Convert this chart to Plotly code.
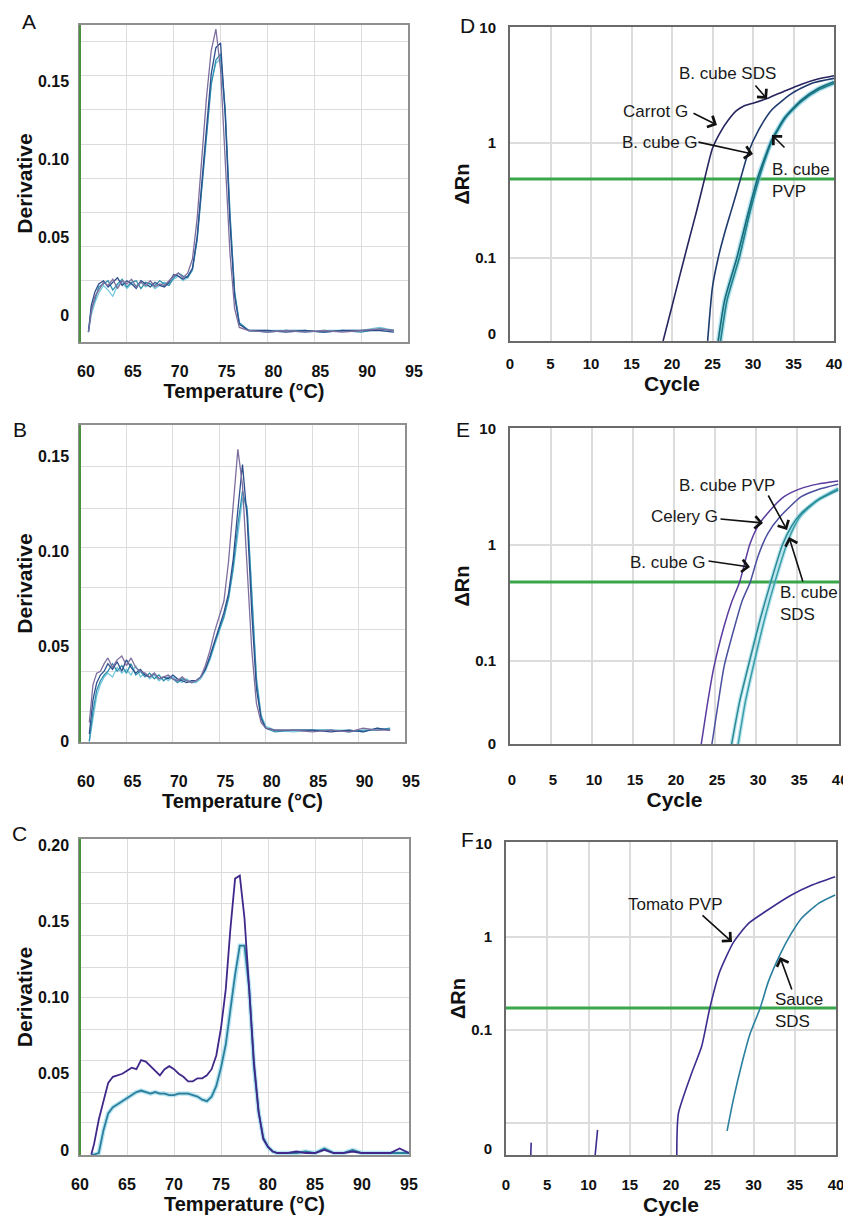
import plotly.graph_objects as go

# page is 851x1217; the html body adds an 8 px margin, so the figure is 843x1209 drawn at (8, 8)
PAGE_OFF = 8
W, H = 851 - PAGE_OFF, 1217 - PAGE_OFF

# ---------------- data: melt curves (Temperature °C, Derivative) ----------------
A_temp = [60.9, 61.2, 61.6, 62.0, 62.5, 63.0, 63.5, 64.0, 64.5, 65.0, 65.5, 66.0, 66.5, 67.0, 67.5,
          68.0, 68.5, 69.0, 69.5, 70.0, 70.5, 71.0, 71.5, 72.0, 72.5, 73.0, 73.5, 74.0, 74.5, 75.0,
          75.5, 76.0, 76.5, 77.0, 78.0, 80.0, 82.0, 84.0, 86.0, 88.0, 90.0, 92.0, 93.5]
A_purple = [-0.011, 0.002, 0.012, 0.016, 0.021, 0.019, 0.023, 0.017, 0.022, 0.020, 0.023, 0.018, 0.021, 0.019, 0.022,
            0.018, 0.020, 0.019, 0.022, 0.025, 0.027, 0.024, 0.027, 0.036, 0.062, 0.100, 0.140, 0.170, 0.184, 0.158,
            0.100, 0.040, 0.004, -0.008, -0.010, -0.011, -0.010, -0.011, -0.010, -0.011, -0.010, -0.009, -0.010]
A_navy = [-0.011, 0.006, 0.015, 0.020, 0.022, 0.018, 0.021, 0.024, 0.019, 0.022, 0.020, 0.017, 0.022, 0.020, 0.018,
          0.021, 0.019, 0.018, 0.021, 0.026, 0.025, 0.023, 0.025, 0.030, 0.050, 0.085, 0.122, 0.155, 0.172, 0.175,
          0.128, 0.060, 0.012, -0.006, -0.010, -0.010, -0.011, -0.010, -0.011, -0.010, -0.010, -0.010, -0.011]
A_teal = [-0.011, 0.004, 0.010, 0.018, 0.020, 0.022, 0.016, 0.020, 0.023, 0.018, 0.021, 0.022, 0.017, 0.021, 0.020,
          0.019, 0.022, 0.020, 0.019, 0.024, 0.027, 0.025, 0.024, 0.029, 0.048, 0.082, 0.118, 0.148, 0.164, 0.168,
          0.132, 0.066, 0.015, -0.005, -0.010, -0.011, -0.010, -0.010, -0.011, -0.010, -0.011, -0.009, -0.010]
A_cyan = [-0.011, 0.000, 0.008, 0.014, 0.019, 0.016, 0.012, 0.019, 0.021, 0.017, 0.020, 0.019, 0.021, 0.018, 0.020,
          0.017, 0.019, 0.021, 0.020, 0.023, 0.025, 0.022, 0.024, 0.030, 0.050, 0.084, 0.119, 0.150, 0.162, 0.165,
          0.130, 0.064, 0.014, -0.005, -0.010, -0.010, -0.010, -0.011, -0.010, -0.010, -0.010, -0.008, -0.010]

B_temp = [61.0, 61.4, 61.8, 62.2, 62.6, 63.0, 63.5, 64.0, 64.5, 65.0, 65.5, 66.0, 66.5, 67.0, 67.5, 68.0,
          68.5, 69.0, 69.5, 70.0, 70.5, 71.0, 71.5, 72.0, 72.5, 73.0, 73.5, 74.0, 74.5, 75.0, 75.5, 76.0,
          76.5, 77.0, 77.5, 78.0, 78.5, 79.0, 79.5, 80.0, 81.0, 83.0, 85.0, 87.0, 89.0, 90.5, 92.0, 93.4]
B_purple = [0.010, 0.030, 0.036, 0.037, 0.041, 0.044, 0.039, 0.043, 0.045, 0.040, 0.044, 0.039, 0.037, 0.036, 0.034, 0.036,
            0.033, 0.034, 0.035, 0.033, 0.032, 0.034, 0.032, 0.031, 0.032, 0.034, 0.040, 0.048, 0.058, 0.066, 0.074, 0.095,
            0.125, 0.154, 0.135, 0.090, 0.048, 0.020, 0.010, 0.007, 0.006, 0.006, 0.005, 0.006, 0.005, 0.007, 0.006, 0.006]
B_navy = [0.004, 0.022, 0.031, 0.035, 0.037, 0.041, 0.038, 0.042, 0.037, 0.043, 0.039, 0.036, 0.038, 0.035, 0.034, 0.036,
          0.033, 0.034, 0.033, 0.035, 0.033, 0.032, 0.031, 0.032, 0.032, 0.034, 0.038, 0.045, 0.053, 0.060, 0.068, 0.078,
          0.096, 0.122, 0.146, 0.118, 0.068, 0.028, 0.012, 0.007, 0.006, 0.006, 0.006, 0.005, 0.006, 0.005, 0.007, 0.006]
B_teal = [0.000, 0.016, 0.027, 0.032, 0.035, 0.037, 0.041, 0.037, 0.040, 0.036, 0.041, 0.035, 0.037, 0.034, 0.036, 0.033,
          0.035, 0.032, 0.034, 0.033, 0.031, 0.033, 0.032, 0.031, 0.032, 0.034, 0.038, 0.044, 0.052, 0.059, 0.066, 0.076,
          0.092, 0.114, 0.132, 0.122, 0.075, 0.032, 0.013, 0.007, 0.005, 0.006, 0.006, 0.006, 0.005, 0.006, 0.006, 0.007]
B_cyan = [0.000, 0.012, 0.024, 0.030, 0.034, 0.036, 0.034, 0.039, 0.036, 0.038, 0.035, 0.040, 0.034, 0.036, 0.033, 0.035,
          0.032, 0.034, 0.032, 0.034, 0.032, 0.031, 0.033, 0.031, 0.031, 0.033, 0.037, 0.043, 0.051, 0.058, 0.065, 0.075,
          0.090, 0.110, 0.128, 0.124, 0.078, 0.034, 0.014, 0.008, 0.006, 0.005, 0.006, 0.006, 0.006, 0.005, 0.007, 0.006]

C_temp = [61.2, 61.5, 62.0, 62.5, 63.0, 63.5, 64.0, 64.5, 65.0, 65.5, 66.0, 66.5, 67.0, 67.5, 68.0, 68.5,
          69.0, 69.5, 70.0, 70.5, 71.0, 71.5, 72.0, 72.5, 73.0, 73.5, 74.0, 74.5, 75.0, 75.5, 76.0, 76.5,
          77.0, 77.5, 78.0, 78.5, 79.0, 79.5, 80.0, 80.5, 81.0, 82.0, 83.0, 84.0, 85.0, 86.0, 87.0, 88.0,
          89.0, 90.0, 91.0, 92.0, 93.0, 94.0, 95.0]
C_purple = [-0.003, 0.004, 0.020, 0.033, 0.044, 0.048, 0.049, 0.050, 0.052, 0.054, 0.053, 0.059, 0.058, 0.055, 0.052, 0.049,
            0.053, 0.055, 0.053, 0.050, 0.048, 0.045, 0.045, 0.047, 0.047, 0.049, 0.053, 0.062, 0.080, 0.105, 0.145, 0.178,
            0.180, 0.152, 0.105, 0.058, 0.025, 0.007, 0.002, -0.001, -0.002, -0.002, -0.001, -0.002, -0.002, 0.000, -0.002, -0.002,
            -0.001, -0.002, -0.002, -0.002, -0.002, 0.001, -0.002]
C_teal = [-0.003, -0.003, -0.002, 0.013, 0.024, 0.028, 0.030, 0.032, 0.034, 0.036, 0.038, 0.039, 0.038, 0.037, 0.038, 0.037,
          0.037, 0.036, 0.036, 0.037, 0.037, 0.037, 0.036, 0.035, 0.033, 0.032, 0.035, 0.042, 0.054, 0.069, 0.092, 0.115,
          0.134, 0.134, 0.106, 0.055, 0.025, 0.008, 0.002, -0.001, -0.002, -0.002, -0.002, -0.001, -0.002, 0.001, -0.002, -0.002,
          0.000, -0.002, -0.002, -0.002, -0.002, -0.002, -0.002]

# ---------------- data: amplification curves (Cycle, ΔRn) ----------------
D_carrotG_cyc = [18.9, 20, 21, 22, 23, 24, 25, 26, 27, 28, 29, 30, 32, 34, 36, 38, 40]
D_carrotG_val = [0.019, 0.038, 0.072, 0.135, 0.25, 0.48, 0.90, 1.25, 1.60, 1.92, 2.12, 2.22, 2.48, 2.85, 3.25, 3.60, 3.85]
D_bcubeG_cyc = [24.4, 25.0, 25.7, 26.5, 27.4, 28.2, 29.4, 30.7, 32.3, 34.8, 37.2, 40]
D_bcubeG_val = [0.019, 0.056, 0.10, 0.165, 0.27, 0.42, 0.82, 1.30, 1.94, 2.70, 3.30, 3.65]
D_bcubePVP_cyc = [25.7, 26.5, 28.0, 29.4, 30.5, 31.5, 32.3, 34.0, 36.0, 38.1, 40]
D_bcubePVP_val = [0.019, 0.043, 0.10, 0.246, 0.48, 0.76, 1.06, 1.69, 2.37, 2.99, 3.41]
D_bcubeSDS_cyc = [26.0, 26.8, 28.3, 29.6, 30.7, 31.6, 32.4, 34.0, 36.0, 38.1, 40]
D_bcubeSDS_val = [0.019, 0.043, 0.10, 0.246, 0.48, 0.76, 1.06, 1.66, 2.30, 2.90, 3.30]
D_threshold = 0.486

E_celeryG_cyc = [23.3, 24.0, 24.8, 26.1, 27.0, 28.0, 29.2, 30.2, 31.4, 33.4, 35.5, 37.5, 40]
E_celeryG_val = [0.019, 0.04, 0.085, 0.20, 0.32, 0.483, 1.0, 1.45, 1.88, 2.61, 3.08, 3.35, 3.56]
E_bcubeG_cyc = [24.6, 25.3, 26.1, 27.4, 28.3, 29.3, 30.2, 31.4, 32.9, 35.5, 37.5, 40]
E_bcubeG_val = [0.019, 0.04, 0.09, 0.20, 0.33, 0.483, 0.79, 1.25, 1.75, 2.61, 3.00, 3.34]
E_bcubePVP_cyc = [27.0, 28.0, 29.2, 30.5, 31.8, 33.2, 34.3, 35.5, 37.5, 40]
E_bcubePVP_val = [0.019, 0.045, 0.10, 0.23, 0.483, 1.0, 1.45, 1.88, 2.44, 2.98]
E_bcubeSDS_cyc = [27.8, 28.7, 29.8, 31.1, 32.3, 33.7, 34.6, 35.5, 37.5, 40]
E_bcubeSDS_val = [0.019, 0.045, 0.10, 0.24, 0.483, 1.0, 1.42, 1.81, 2.44, 3.08]
E_threshold = 0.48

F_tomato_cyc = [20.7, 20.9, 22.5, 23.7, 24.7, 25.9, 27.6, 29.4, 31.4, 34.6, 37.1, 39.9]
F_tomato_val = [0.0045, 0.0128, 0.0344, 0.066, 0.171, 0.42, 0.88, 1.39, 1.85, 2.80, 3.58, 4.40]
F_tomato_spike1_cyc = [3.0, 3.05]
F_tomato_spike1_val = [0.0045, 0.0062]
F_tomato_spike2_cyc = [10.8, 11.1]
F_tomato_spike2_val = [0.0045, 0.0085]
F_sauce_cyc = [26.8, 27.55, 28.6, 29.6, 30.8, 31.8, 33.2, 34.6, 35.8, 37.9, 39.9]
F_sauce_val = [0.0083, 0.0178, 0.044, 0.092, 0.171, 0.33, 0.64, 1.09, 1.57, 2.28, 2.80]
F_threshold = 0.172

temp_ticks = [60, 65, 70, 75, 80, 85, 90, 95]
cycle_ticks = [0, 5, 10, 15, 20, 25, 30, 35, 40]

# ---------------- styling ----------------
FONT = "Liberation Sans, Arial, sans-serif"
C_PURPLE = "#7d6e9e"
C_NAVY = "#2d4e8c"
C_TEAL = "#2f8fae"
C_CYAN = "#76c8dc"
GREEN = "#3aa64a"
GRID = "#dcdcdc"
FRAME_M = "#8f8f8f"
FRAME_Q = "#6a6a6a"

fig = go.Figure()


def fx(p):
    return (p - PAGE_OFF) / W


def fy(p):
    return 1 - (p - PAGE_OFF) / H


def line(xs, ys, ax, color, width, shape="linear", opacity=1.0):
    fig.add_trace(go.Scatter(x=xs, y=ys, xaxis="x" + ax, yaxis="y" + ax, mode="lines",
                             line=dict(color=color, width=width, shape=shape, smoothing=0.6),
                             opacity=opacity, showlegend=False, hoverinfo="skip"))


# melt curves
line(A_temp, A_cyan, "", C_CYAN, 1.3)
line(A_temp, A_teal, "", C_TEAL, 1.3)
line(A_temp, A_navy, "", C_NAVY, 1.3)
line(A_temp, A_purple, "", C_PURPLE, 1.3)

line(B_temp, B_cyan, "2", C_CYAN, 1.3)
line(B_temp, B_teal, "2", C_TEAL, 1.3)
line(B_temp, B_navy, "2", C_NAVY, 1.3)
line(B_temp, B_purple, "2", C_PURPLE, 1.3)

line(C_temp, C_teal, "3", "rgba(120,205,230,0.5)", 4.5)
line(C_temp, C_teal, "3", "#2b7f9c", 1.8)
line(C_temp, C_purple, "3", "#40288a", 1.8)

# amplification curves
line([0, 40], [D_threshold, D_threshold], "4", GREEN, 3)
line(D_bcubeSDS_cyc, D_bcubeSDS_val, "4", "rgba(110,200,225,0.5)", 4.5, "spline")
line(D_bcubePVP_cyc, D_bcubePVP_val, "4", "rgba(110,200,225,0.5)", 4.5, "spline")
line(D_bcubeSDS_cyc, D_bcubeSDS_val, "4", "#1f8088", 1.6, "spline")
line(D_bcubePVP_cyc, D_bcubePVP_val, "4", "#176c7a", 1.6, "spline")
line(D_bcubeG_cyc, D_bcubeG_val, "4", "#1d3a6c", 1.6, "spline")
line(D_carrotG_cyc, D_carrotG_val, "4", "#26245e", 1.6, "spline")

line([0, 40.1], [E_threshold, E_threshold], "5", GREEN, 3)
line(E_bcubeSDS_cyc, E_bcubeSDS_val, "5", "rgba(110,200,225,0.45)", 4, "spline")
line(E_bcubePVP_cyc, E_bcubePVP_val, "5", "rgba(110,200,225,0.45)", 4, "spline")
line(E_bcubeSDS_cyc, E_bcubeSDS_val, "5", "#3a9ea6", 1.5, "spline")
line(E_bcubePVP_cyc, E_bcubePVP_val, "5", "#2a8a92", 1.5, "spline")
line(E_bcubeG_cyc, E_bcubeG_val, "5", "#4a4f9e", 1.5, "spline")
line(E_celeryG_cyc, E_celeryG_val, "5", "#5a3b9e", 1.5, "spline")

line([0, 40], [F_threshold, F_threshold], "6", GREEN, 3)
line(F_tomato_spike1_cyc, F_tomato_spike1_val, "6", "#3d2c8e", 1.6)
line(F_tomato_spike2_cyc, F_tomato_spike2_val, "6", "#3d2c8e", 1.6)
line(F_sauce_cyc, F_sauce_val, "6", "#2a7f9f", 1.6, "spline")
line(F_tomato_cyc, F_tomato_val, "6", "#3d2c8e", 1.6, "spline")

# ---------------- axes ----------------
TICKF_M = dict(family=FONT, size=16, color="#111111")
TICKF_Q = dict(family=FONT, size=15, color="#111111")
XT_M = dict(family=FONT, size=20, color="#111111")
YT_M = dict(family=FONT, size=21, color="#111111")
XT_Q = dict(family=FONT, size=21, color="#111111")
YT_Q = dict(family=FONT, size=20, color="#111111")


def bold(s):
    return "<b>" + s + "</b>"


layout_axes = {}


def melt(n, xpx, ypx, yrange, ytick, ytext, ygrid, lab_standoff, shift, title_standoff):
    sfx = "" if n == 1 else str(n)
    layout_axes["xaxis" + sfx] = dict(
        domain=[fx(xpx[0]), fx(xpx[1])], anchor="y" + sfx, range=[60, 95], automargin=False,
        tickvals=temp_ticks, ticktext=[bold(str(t)) for t in temp_ticks],
        showgrid=True, gridcolor=GRID, gridwidth=1, zeroline=False,
        showline=True, linecolor=FRAME_M, linewidth=1.5, mirror=True, ticks="",
        tickfont=TICKF_M, ticklabelstandoff=lab_standoff, ticklabelshift=shift,
        title=dict(text=bold("Temperature (°C)"), font=XT_M, standoff=title_standoff))
    layout_axes["yaxis" + sfx] = dict(
        domain=[fy(ypx[1]), fy(ypx[0])], anchor="x" + sfx, range=yrange, automargin=False,
        tickvals=ytick, ticktext=[bold(t) for t in ytext], showgrid=False, zeroline=False,
        minor=dict(tickvals=ygrid, showgrid=True, gridcolor=GRID, gridwidth=1, ticks=""),
        showline=True, linecolor=FRAME_M, linewidth=1.5, mirror=True, ticks="",
        tickfont=TICKF_M, ticklabelstandoff=6,
        title=dict(text=bold("Derivative"), font=YT_M, standoff=0))


def qpcr(n, xpx, ypx, yrange, ytick, ygrid, lab_standoff, shift, title_standoff, xmax):
    sfx = str(n)
    layout_axes["xaxis" + sfx] = dict(
        domain=[fx(xpx[0]), fx(xpx[1])], anchor="y" + sfx, range=[0, xmax], automargin=False,
        tickvals=cycle_ticks, ticktext=[bold(str(t)) for t in cycle_ticks],
        showgrid=True, gridcolor=GRID, gridwidth=1.5, zeroline=False,
        showline=True, linecolor=FRAME_Q, linewidth=2, mirror=True, ticks="",
        tickfont=TICKF_Q, ticklabelstandoff=lab_standoff, ticklabelshift=shift,
        title=dict(text=bold("Cycle"), font=XT_Q, standoff=title_standoff))
    layout_axes["yaxis" + sfx] = dict(
        domain=[fy(ypx[1]), fy(ypx[0])], anchor="x" + sfx, type="log", range=yrange, automargin=False,
        tickvals=ytick, ticktext=[bold(t) for t in ["0", "0.1", "1", "10"]], showgrid=False,
        zeroline=False,
        minor=dict(tickvals=ygrid, showgrid=True, gridcolor=GRID, gridwidth=1.5, ticks=""),
        showline=True, linecolor=FRAME_Q, linewidth=2, mirror=True, ticks="",
        tickfont=TICKF_Q, ticklabelstandoff=9,
        title=dict(text=bold("ΔRn"), font=YT_Q, standoff=0))


melt(1, (80, 408), (25, 342), [-0.0174, 0.1866], [0, 0.05, 0.10, 0.15], ["0", "0.05", "0.10", "0.15"],
     [0.022, 0.044, 0.066, 0.088, 0.110, 0.132, 0.154, 0.176], 14, 6, 4)
melt(2, (80, 405), (425, 742), [-0.0003, 0.1668], [0, 0.05, 0.10, 0.15], ["0", "0.05", "0.10", "0.15"],
     [0.016, 0.037, 0.059, 0.081, 0.102, 0.123, 0.145], 24, 6, 2)
melt(3, (80, 409), (839, 1155), [-0.0033, 0.204], [0, 0.05, 0.10, 0.15, 0.20],
     ["0", "0.05", "0.10", "0.15", "0.20"],
     [0.018, 0.038, 0.059, 0.079, 0.100, 0.120, 0.141, 0.162, 0.182], 14, 0, 4)
qpcr(4, (510, 834), (27, 341), [-1.722, 1.009], [0.022, 0.1, 1, 10], [0.1, 1], 8, 0, 4, 40)
qpcr(5, (510, 839), (428, 744), [-1.716, 1.009], [0.0195, 0.1, 1, 10], [0.1, 1], 21, 2, 2, 40.1)
qpcr(6, (506, 836), (842, 1155), [-2.34, 1.015], [0.0054, 0.1, 1, 10], [0.01, 0.1, 1], 15, 0, 2, 40)

# green left frame edge of the melt panels
shapes = []
for sfx in ["", "2", "3"]:
    shapes.append(dict(type="line", xref="x" + sfx + " domain", yref="y" + sfx + " domain",
                       x0=0, x1=0, y0=0, y1=1, line=dict(color="#4b8f3f", width=2)))

# ---------------- annotations ----------------
annotations = []
for letter, (px_, py_) in {"A": (29, 22), "B": (20, 430), "C": (19, 833),
                           "D": (467, 25), "E": (463, 430), "F": (467, 839)}.items():
    annotations.append(dict(text=letter, x=fx(px_), y=fy(py_), xref="paper", yref="paper",
                            showarrow=False, xanchor="center", yanchor="middle",
                            font=dict(family=FONT, size=21, color="#111111")))

LBL = dict(family=FONT, size=17, color="#1a1a1a")
labels = [
    ("B. cube SDS", 727, 74, "center"), ("Carrot G", 655, 111, "center"), ("B. cube G", 660, 142, "center"),
    ("B. cube<br>PVP", 770, 180, "left"),
    ("B. cube PVP", 727, 485, "center"), ("Celery G", 684, 517, "center"), ("B. cube G", 668, 562, "center"),
    ("B. cube<br>SDS", 778, 603, "left"),
    ("Tomato PVP", 675, 904, "center"), ("Sauce<br>SDS", 773, 1011, "left"),
]
for text, px_, py_, anc in labels:
    annotations.append(dict(text=text, x=fx(px_), y=fy(py_), xref="paper", yref="paper", showarrow=False,
                            xanchor=anc, yanchor="middle", align="left", font=LBL))

arrows = [  # (tail px, head px)
    ((755, 85), (767, 99)), ((693, 113), (717, 125)), ((698, 142), (753, 154)), ((785, 148), (772, 135)),
    ((768, 495), (787, 530)), ((720, 519), (763, 523)), ((708, 561), (750, 567)), ((803, 582), (789, 537)),
    ((702, 915), (732, 942)), ((792, 990), (780, 957)),
]
for (tx, ty), (hx, hy) in arrows:
    annotations.append(dict(text="", x=fx(hx), y=fy(hy), xref="paper", yref="paper", showarrow=True,
                            ax=tx - hx, ay=ty - hy, axref="pixel", ayref="pixel",
                            arrowhead=4, arrowsize=1.5, arrowwidth=1.6, arrowcolor="#111111",
                            borderpad=0))

fig.update_layout(
    width=W, height=H, margin=dict(l=0, r=0, t=0, b=0, autoexpand=False),
    paper_bgcolor="white", plot_bgcolor="white",
    font=dict(family=FONT, color="#111111"),
    showlegend=False, shapes=shapes, annotations=annotations,
    **layout_axes,
)

fig.write_html("out.html")
